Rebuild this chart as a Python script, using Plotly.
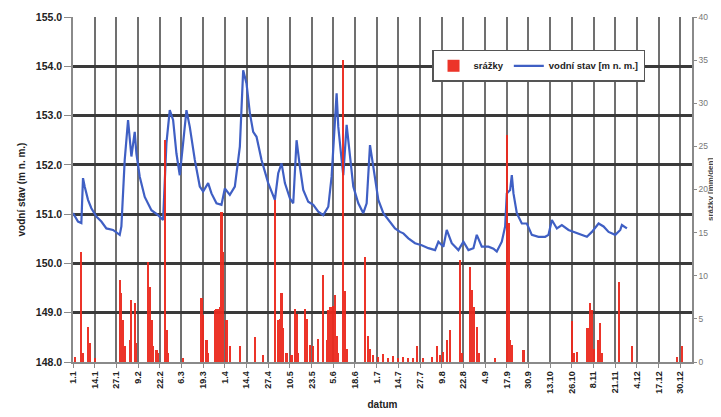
import plotly.graph_objects as go

# --- water level (vodní stav), day of year 2008 (0 = 1.1.) ---
level_day = [0, 3, 5, 6, 7, 9, 11, 14, 17, 20, 24, 28, 29, 31, 33, 35, 37, 38, 40, 43,
             47, 51, 54, 56, 58, 60, 62, 64, 66, 68, 70, 73, 76, 78, 81, 83, 86, 89, 91, 94,
             97, 100, 102, 104, 106, 108, 110, 113, 117, 121, 123, 125, 127, 130, 132, 134, 136, 138, 141, 144,
             147, 150, 153, 155, 158, 159, 161, 162, 164, 166, 168, 171, 174, 176, 178, 180, 183, 186, 189, 193,
             196, 198, 201, 205, 209, 213, 217, 219, 222, 224, 227, 231, 234, 237, 240, 242, 245, 249, 252, 254,
             257, 259, 260, 262, 263, 264, 266, 269, 272, 275, 279, 283, 285, 287, 290, 293, 297, 303, 308, 311,
             315, 318, 321, 325, 328, 329, 332]
level = [151.02, 150.85, 150.82, 151.73, 151.56, 151.29, 151.12, 150.95, 150.85, 150.71, 150.68, 150.58, 150.75, 152.10, 152.91, 152.17, 152.67, 152.23, 151.76, 151.35,
         151.08, 150.98, 150.88, 152.44, 153.11, 152.91, 152.23, 151.79, 152.44, 153.11, 152.77, 152.10, 151.56, 151.46, 151.63, 151.42, 151.22, 151.19, 151.52, 151.39,
         151.56, 152.37, 153.92, 153.65, 153.05, 152.67, 152.57, 152.10, 151.63, 151.29, 151.83, 152.03, 151.63, 151.32, 151.22, 152.50, 151.96, 151.49, 151.25, 151.19,
         151.05, 150.98, 151.15, 151.76, 153.45, 152.77, 152.10, 151.79, 152.81, 152.17, 151.56, 151.22, 151.02, 151.22, 152.40, 151.96, 151.29, 151.02, 150.88, 150.71,
         150.64, 150.61, 150.51, 150.41, 150.37, 150.31, 150.27, 150.44, 150.34, 150.68, 150.41, 150.27, 150.44, 150.27, 150.31, 150.58, 150.34, 150.34, 150.30, 150.24,
         150.44, 150.75, 151.42, 151.49, 151.79, 151.42, 151.02, 150.81, 150.81, 150.58, 150.54, 150.54, 150.58, 150.88, 150.71, 150.78, 150.68, 150.61, 150.54, 150.64,
         150.81, 150.75, 150.64, 150.58, 150.68, 150.78, 150.71]

# --- precipitation (srážky) [mm/den] ---
rain_day = [1, 5, 6, 9, 10, 13, 28, 29, 30, 31, 34, 35, 37, 38, 45, 46, 47, 48, 50, 51,
            55, 56, 57, 66, 77, 78, 80, 81, 85, 86, 87, 88, 89, 90, 92, 94, 100, 109, 114, 121,
            123, 124, 125, 126, 128, 131, 133, 134, 135, 139, 140, 142, 144, 147, 150, 152, 153, 154, 155, 156,
            157, 158, 159, 162, 163, 164, 175, 177, 178, 180, 183, 186, 189, 192, 195, 198, 201, 204, 206, 210,
            215, 218, 220, 222, 224, 226, 232, 233, 238, 239, 240, 242, 243, 253, 260, 261, 262, 263, 270, 299,
            300, 302, 308, 309, 310, 311, 312, 315, 316, 317, 327, 335, 362, 365]
rain = [0.6, 12.8, 1.0, 4.1, 2.2, 0.5, 9.5, 8.0, 4.9, 1.8, 2.5, 7.2, 6.8, 2.2, 11.6, 8.7, 4.9, 1.8, 1.4, 1.0,
        25.7, 3.7, 1.0, 0.5, 7.4, 5.5, 2.5, 1.0, 6.0, 6.2, 6.2, 6.4, 17.4, 12.8, 4.9, 1.8, 1.8, 2.9, 0.8, 18.8,
        4.9, 5.0, 8.0, 3.9, 1.1, 0.8, 6.2, 5.6, 1.0, 6.2, 5.0, 2.0, 1.9, 2.7, 10.1, 2.5, 6.0, 6.4, 6.4, 6.5,
        7.8, 3.0, 1.0, 35.0, 8.2, 1.5, 12.2, 3.0, 1.5, 0.8, 0.6, 0.9, 0.5, 0.7, 0.5, 0.6, 0.5, 0.5, 1.8, 0.5,
        0.6, 1.8, 0.8, 1.2, 2.5, 3.7, 11.8, 1.0, 11.0, 8.3, 6.4, 4.1, 1.0, 0.5, 26.3, 16.1, 2.5, 2.0, 1.4, 4.7,
        1.0, 1.2, 3.9, 4.0, 6.8, 6.0, 1.5, 2.5, 4.5, 1.0, 9.3, 1.8, 0.6, 1.8]

tick_labels = ["1.1", "14.1", "27.1", "9.2", "22.2", "6.3", "19.3", "1.4", "14.4", "27.4",
               "10.5", "23.5", "5.6", "18.6", "1.7", "14.7", "27.7", "9.8", "22.8", "4.9",
               "17.9", "30.9", "13.10", "26.10", "8.11", "21.11", "4.12", "17.12", "30.12"]
tick_days = [13 * i for i in range(len(tick_labels))]

FONT = "Liberation Sans, Arial, sans-serif"

fig = go.Figure()
fig.add_trace(go.Scatter(
    x=level_day, y=level, mode="lines", name="vodní stav [m n. m.]",
    line=dict(color="#3f5fc4", width=2.2), yaxis="y"))
fig.add_trace(go.Bar(
    x=rain_day, y=rain, name="srážky", width=1.3,
    marker=dict(color="#ec2a1e", line=dict(width=0)), yaxis="y2", opacity=0.95))

# the page body adds an 8 px offset, so the figure is 8 px smaller
fig.update_layout(
    width=713, height=409,
    margin=dict(l=65, r=29, t=9, b=55, autoexpand=False),
    paper_bgcolor="white", plot_bgcolor="white",
    font=dict(family=FONT, size=10, color="#222"),
    showlegend=True,
    legend=dict(
        orientation="h", x=0.58, y=0.905, xanchor="left", yanchor="top",
        bgcolor="white", bordercolor="#555", borderwidth=1.5,
        font=dict(size=9.5, family=FONT, color="#222", weight="bold"),
        traceorder="reversed", itemwidth=30, tracegroupgap=0,
    ),
    bargap=0,
    xaxis=dict(
        range=[0, 371], tickvals=tick_days, ticktext=tick_labels, tickangle=-90,
        showgrid=True, gridcolor="#707070", gridwidth=2,
        showline=True, linecolor="#8a8a8a", linewidth=1.5,
        ticks="outside", ticklen=4, tickcolor="#8a8a8a",
        tickfont=dict(size=9, family=FONT, color="#222", weight="bold"),
        title=dict(text="datum", font=dict(size=10, family=FONT, color="#222", weight="bold"), standoff=8),
        zeroline=False, automargin=False,
    ),
    yaxis=dict(
        range=[148, 155], dtick=1, tickformat=".1f",
        showgrid=True, gridcolor="#3a3a3a", gridwidth=2.5,
        showline=True, linecolor="#8a8a8a", linewidth=1.5,
        ticks="outside", ticklen=7, tickcolor="#8a8a8a",
        tickfont=dict(size=10.5, family=FONT, color="#222", weight="bold"),
        title=dict(text="vodní stav (m n. m.)", font=dict(size=10, family=FONT, color="#222", weight="bold"), standoff=8),
        zeroline=False, automargin=False,
    ),
    yaxis2=dict(
        range=[0, 40], dtick=5, overlaying="y", side="right",
        showgrid=False, showline=True, linecolor="#8a8a8a", linewidth=1.5,
        ticks="outside", ticklen=3, tickcolor="#8a8a8a",
        tickfont=dict(size=8.5, family=FONT, color="#777"),
        zeroline=False, automargin=False,
    ),
    annotations=[dict(
        text="srážky [mm/den]", xref="paper", yref="paper", x=1.03, y=0.5,
        xanchor="center", yanchor="middle", textangle=-90, showarrow=False,
        font=dict(size=8, family=FONT, color="#444", weight="bold"),
    )],
)

fig.write_html("out.html")
